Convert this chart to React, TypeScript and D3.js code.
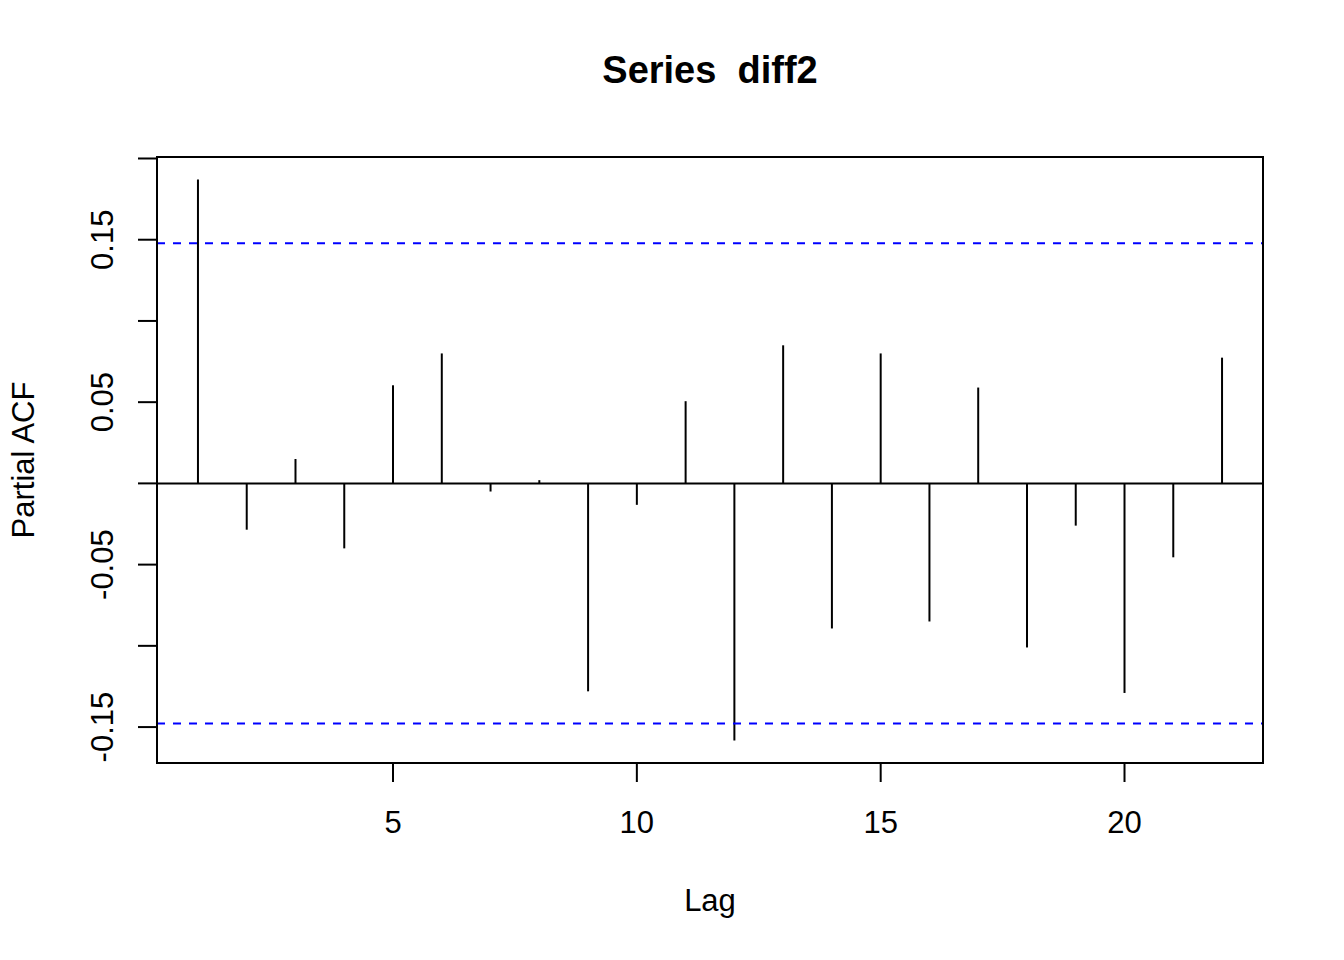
import React from "react";
import * as d3 from "d3";

const lags = [1,2,3,4,5,6,7,8,9,10,11,12,13,14,15,16,17,18,19,20,21,22];
const pacf = [0.1871,-0.0285,0.015,-0.040,0.0604,0.080,-0.005,0.002,-0.128,-0.0132,0.0506,-0.1583,0.085,-0.0893,0.080,-0.085,0.059,-0.101,-0.026,-0.129,-0.0455,0.0774];
const clim = 0.1478;
const xTicks = [5,10,15,20];
const yTicks = [0.2,0.15,0.1,0.05,0,-0.05,-0.1,-0.15];
const yLabels = ["", "0.15", "", "0.05", "", "-0.05", "", "-0.15"];
const title = "Series  diff2";

const W = 1344, H = 960;
const L = 157, R = 1263, T = 157, B = 763;

function expand([a, b]: [number, number]): [number, number] {
  const d = (b - a) * 0.04;
  return [a - d, b + d];
}

export default function App() {
  const xr = expand([d3.min(lags)!, d3.max(lags)!]);
  const yr = expand([Math.min(d3.min(pacf)!, -clim), Math.max(d3.max(pacf)!, clim)]);
  const x = d3.scaleLinear().domain(xr).range([L, R]);
  const y = d3.scaleLinear().domain(yr).range([B, T]);
  const font = "'Liberation Sans', Arial, sans-serif";
  const fs = 31;
  return (
    <svg width={W} height={H} style={{ position: "absolute", left: 0, top: 0, background: "#fff" }} fontFamily={font}>
      <rect x={0} y={0} width={W} height={H} fill="#fff" />
      <text x={(L + R) / 2} y={83} textAnchor="middle" fontWeight="bold" fontSize={38} style={{ whiteSpace: "pre" }} xmlSpace="preserve">{title}</text>
      {/* zero line */}
      <line x1={L} x2={R} y1={y(0)} y2={y(0)} stroke="#000" strokeWidth={2} />
      {/* bars */}
      {lags.map((l, i) => (
        <line key={l} x1={x(l)} x2={x(l)} y1={y(0)} y2={y(pacf[i])} stroke="#000" strokeWidth={2} />
      ))}
      {/* confidence lines */}
      {[clim, -clim].map((c) => (
        <line key={c} x1={L} x2={R} y1={y(c)} y2={y(c)} stroke="#0000ff" strokeWidth={2} strokeDasharray="8,8" />
      ))}
      {/* box */}
      <rect x={L} y={T} width={R - L} height={B - T} fill="none" stroke="#000" strokeWidth={2} />
      {/* x axis */}
      {xTicks.map((t) => (
        <g key={t}>
          <line x1={x(t)} x2={x(t)} y1={B} y2={B + 19} stroke="#000" strokeWidth={2} />
          <text x={x(t)} y={833} textAnchor="middle" fontSize={fs}>{t}</text>
        </g>
      ))}
      {/* y axis */}
      {yTicks.map((t, i) => (
        <g key={t}>
          <line x1={L - 19} x2={L} y1={y(t)} y2={y(t)} stroke="#000" strokeWidth={2} />
          {yLabels[i] && (
            <text transform={`translate(113,${y(t)}) rotate(-90)`} textAnchor="middle" fontSize={fs}>{yLabels[i]}</text>
          )}
        </g>
      ))}
      <text x={(L + R) / 2} y={911} textAnchor="middle" fontSize={fs}>Lag</text>
      <text transform={`translate(34,${(T + B) / 2}) rotate(-90)`} textAnchor="middle" fontSize={fs}>Partial ACF</text>
    </svg>
  );
}
